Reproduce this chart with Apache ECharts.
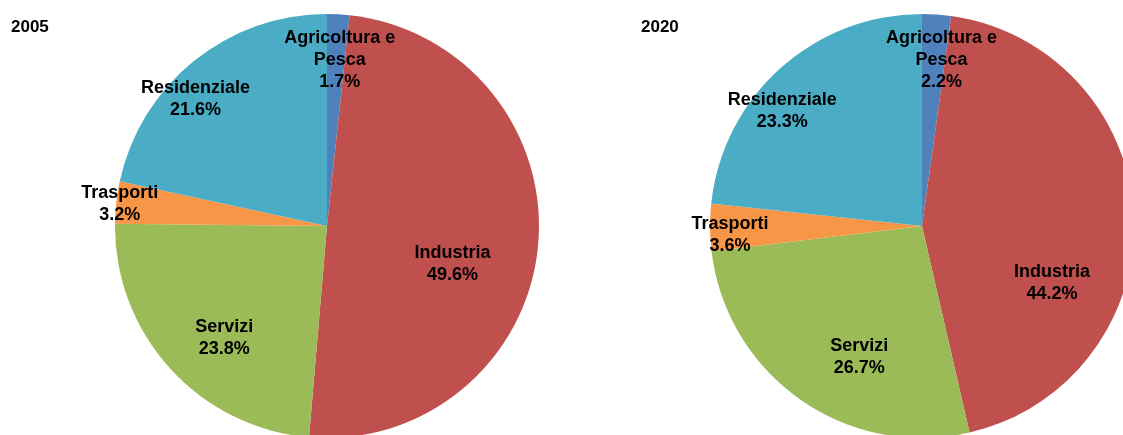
<!DOCTYPE html>
<html>
<head>
<meta charset="utf-8">
<script src="https://cdn.jsdelivr.net/npm/echarts@6/dist/echarts.min.js"></script>
<style>
  html, body { margin: 0; padding: 0; background: #fff; }
  #chart { width: 1123px; height: 435px; }
</style>
</head>
<body>
<div id="chart"></div>
<script>
const categories = ['Agricoltura e Pesca', 'Industria', 'Servizi', 'Trasporti', 'Residenziale'];
const years = ['2005', '2020'];
const values2005 = [1.7, 49.6, 23.8, 3.2, 21.6];
const values2020 = [2.2, 44.2, 26.7, 3.6, 23.3];

const colors = ['#4F81BD', '#C0504D', '#9BBB59', '#F79646', '#4BACC6'];
// nudge labels from the 'inside' spot to where the original places them
const labelShift = [
  [[7, -57], [17, 28], [-22, 39], [-99, -10], [-63, -42]],
  [[12, -57], [21, 62], [0, 42], [-83, 8], [-67, -34]],
];

const chart = echarts.init(document.getElementById('chart'));

function pieSeries(values, centerX, s) {
  return {
    type: 'pie',
    center: [centerX, 226],
    radius: 212,
    startAngle: 90,
    clockwise: true,
    silent: true,
    label: {
      show: true,
      position: 'inside',
      color: '#000',
      fontFamily: 'Liberation Sans, Arial, sans-serif',
      fontWeight: 'bold',
      fontSize: 18,
      lineHeight: 22,
      align: 'center',
      formatter: (p) => p.name.replace('e Pesca', 'e\nPesca') + '\n' + p.value.toFixed(1) + '%',
    },
    labelLayout: (params) => {
      const d = labelShift[s][params.dataIndex];
      return { dx: d[0], dy: d[1] };
    },
    labelLine: { show: false },
    itemStyle: { borderWidth: 0 },
    data: categories.map((name, i) => ({
      name,
      value: values[i],
      itemStyle: { color: colors[i] },
    })),
  };
}

chart.setOption({
  animation: false,
  title: years.map((y, i) => ({
    text: y,
    left: i === 0 ? 11 : 641,
    top: 19,
    padding: 0,
    textStyle: {
      fontFamily: 'Liberation Sans, Arial, sans-serif',
      fontWeight: 'bold',
      fontSize: 17,
      color: '#000',
    },
  })),
  series: [pieSeries(values2005, 327, 0), pieSeries(values2020, 922, 1)],
});
</script>
</body>
</html>
